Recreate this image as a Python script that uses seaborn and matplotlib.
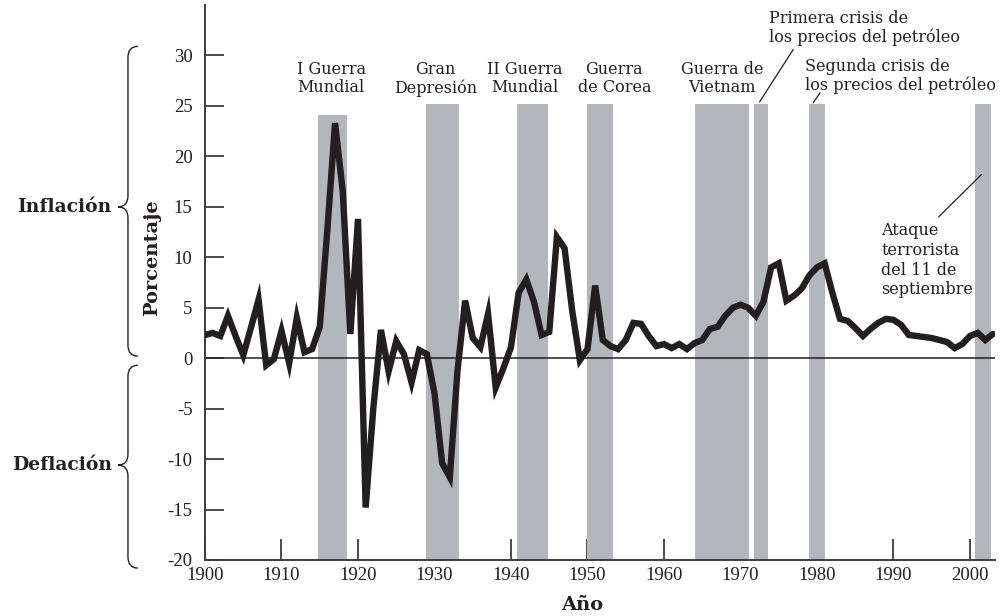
import numpy as np
import pandas as pd
import matplotlib
matplotlib.use("Agg")
import matplotlib.pyplot as plt
import seaborn as sns
from matplotlib.path import Path
from matplotlib.patches import PathPatch
from matplotlib.transforms import blended_transform_factory

# --- data -----------------------------------------------------------------
years = list(range(1900, 2004))
inflation = [
    2.3, 2.5, 2.2, 4.2, 2.2, 0.3, 3.0, 5.8, -0.7, -0.1,      # 1900s
    2.7, -0.5, 4.0, 0.6, 0.9, 3.1, 12.8, 23.3, 16.6, 2.4,    # 1910s
    13.8, -14.8, -5.0, 2.8, -1.3, 1.7, 0.4, -2.4, 0.8, 0.4,  # 1920s
    -3.5, -10.4, -11.8, -1.3, 5.7, 2.0, 1.1, 4.4, -2.9, -1.0,  # 1930s
    1.1, 6.5, 7.8, 5.6, 2.3, 2.6, 12.0, 10.9, 4.7, -0.2,     # 1940s
    0.9, 7.2, 1.8, 1.2, 0.9, 1.8, 3.5, 3.4, 2.2, 1.2,        # 1950s
    1.4, 1.0, 1.4, 0.9, 1.5, 1.8, 2.9, 3.1, 4.2, 5.0,        # 1960s
    5.3, 5.0, 4.2, 5.6, 9.0, 9.4, 5.7, 6.2, 6.9, 8.2,        # 1970s
    9.0, 9.4, 6.5, 3.9, 3.7, 3.0, 2.2, 2.9, 3.5, 3.9,        # 1980s
    3.8, 3.3, 2.3, 2.2, 2.1, 2.0, 1.8, 1.6, 1.0, 1.4,        # 1990s
    2.2, 2.5, 1.8, 2.4,                                      # 2000s
]

event_start = [1914.8, 1928.9, 1940.8, 1949.9, 1964.1, 1971.8, 1978.9, 2000.6]
event_end = [1918.5, 1933.2, 1944.9, 1953.3, 1971.1, 1973.6, 1981.0, 2002.8]
event_top = [24.1, 25.2, 25.2, 25.2, 25.2, 25.2, 25.2, 25.2]

x_ticks = list(range(1900, 2001, 10))
y_ticks = list(range(-20, 31, 5))

INK = "#231f20"
GREY = "#b3b6ba"
AXIS = "#3d3d3d"


def draw_brace(ax, y_top, y_tip, y_bot, x_line, x_hook, x_tip, r=1.1):
    """Curly brace on the left margin: x in axes fraction, y in data units."""
    trans = blended_transform_factory(ax.transAxes, ax.transData)
    verts = [
        (x_hook, y_top), (x_line, y_top), (x_line, y_top - r),
        (x_line, y_tip + r), (x_line, y_tip), (x_tip, y_tip),
        (x_line, y_tip), (x_line, y_tip - r),
        (x_line, y_bot + r), (x_line, y_bot), (x_hook, y_bot),
    ]
    codes = [
        Path.MOVETO, Path.CURVE3, Path.CURVE3,
        Path.LINETO, Path.CURVE3, Path.CURVE3,
        Path.CURVE3, Path.CURVE3,
        Path.LINETO, Path.CURVE3, Path.CURVE3,
    ]
    patch = PathPatch(Path(verts, codes), fill=False, lw=1.0, ec=INK,
                      transform=trans, clip_on=False)
    ax.add_patch(patch)


sns.set_theme(style="ticks")
plt.rcParams["font.family"] = ["DejaVu Serif"]
plt.rcParams["text.color"] = INK

df = pd.DataFrame({"year": years, "rate": inflation})

fig = plt.figure(figsize=(10.03, 6.16), dpi=100)
ax = fig.add_axes([205 / 1003, 56 / 616, 790 / 1003, 555 / 616])

# shaded periods
widths = [e - s for s, e in zip(event_start, event_end)]
heights = [t + 20 for t in event_top]
ax.bar(event_start, heights, width=widths, bottom=-20, align="edge",
       color=GREY, linewidth=0, zorder=1)

ax.axhline(0, color=INK, lw=1.1, zorder=2)

sns.lineplot(data=df, x="year", y="rate", ax=ax, color=INK, linewidth=4.6,
             zorder=3)
for line in ax.get_lines():
    line.set_solid_joinstyle("miter")

ax.set_xlim(1900, 1900 + 790 / 7.65)
ax.set_ylim(-20, 35)
sns.despine(ax=ax)
for side in ("left", "bottom"):
    ax.spines[side].set_color(AXIS)
    ax.spines[side].set_linewidth(1.4)

ax.set_xticks(x_ticks)
ax.set_xticklabels([str(v) for v in x_ticks], family="Liberation Serif",
                   fontsize=13.5, color=INK)
ax.set_yticks(y_ticks)
ax.set_yticklabels([str(v) for v in y_ticks], family="Liberation Serif",
                   fontsize=13.5, color=INK)
ax.tick_params(axis="y", direction="in", length=14, width=1.3, color=AXIS, pad=9)
ax.tick_params(axis="x", direction="in", length=15, width=1.3, color=AXIS, pad=5)

ax.set_xlabel("Año", fontsize=14, fontweight="bold", color=INK)
ax.xaxis.set_label_coords(0.478, -0.064)
ax.set_ylabel("Porcentaje", fontsize=14, fontweight="bold", color=INK)
ax.yaxis.set_label_coords(-0.056, 0.544)

# event labels
txt = dict(fontsize=11.5, color=INK, linespacing=1.1)
ax.text(1916.5, 27.7, "I Guerra\nMundial", ha="center", va="center", **txt)
ax.text(1930.1, 27.7, "Gran\nDepresión", ha="center", va="center", **txt)
ax.text(1941.8, 27.7, "II Guerra\nMundial", ha="center", va="center", **txt)
ax.text(1953.5, 27.7, "Guerra\nde Corea", ha="center", va="center", **txt)
ax.text(1967.6, 27.7, "Guerra de\nVietnam", ha="center", va="center", **txt)
ax.text(1973.7, 32.7, "Primera crisis de\nlos precios del petróleo",
        ha="left", va="center", **txt)
ax.text(1978.4, 28.0, "Segunda crisis de\nlos precios del petróleo",
        ha="left", va="center", **txt)
ax.text(1988.4, 9.7, "Ataque\nterrorista\ndel 11 de\nseptiembre",
        ha="left", va="center", fontsize=11.5, color=INK, linespacing=1.2)

lead = dict(arrowstyle="-", lw=0.9, color=INK, shrinkA=0, shrinkB=0)
ax.annotate("", xy=(1972.5, 25.4), xytext=(1976.9, 30.6), arrowprops=lead)
ax.annotate("", xy=(1979.5, 25.3), xytext=(1980.4, 26.3), arrowprops=lead)
ax.annotate("", xy=(2001.5, 18.2), xytext=(1995.9, 14.0), arrowprops=lead)

# inflation / deflation braces
draw_brace(ax, 30.9, 15.0, 0.2, -0.0975, -0.0850, -0.1100)
draw_brace(ax, -0.7, -10.6, -20.8, -0.0975, -0.0850, -0.1100)
side = blended_transform_factory(ax.transAxes, ax.transData)
ax.text(-0.118, 15.0, "Inflación", ha="right", va="center", fontsize=13.5,
        fontweight="bold", transform=side)
ax.text(-0.118, -10.6, "Deflación", ha="right", va="center", fontsize=13.5,
        fontweight="bold", transform=side)

fig.savefig("out.png", dpi=100)
